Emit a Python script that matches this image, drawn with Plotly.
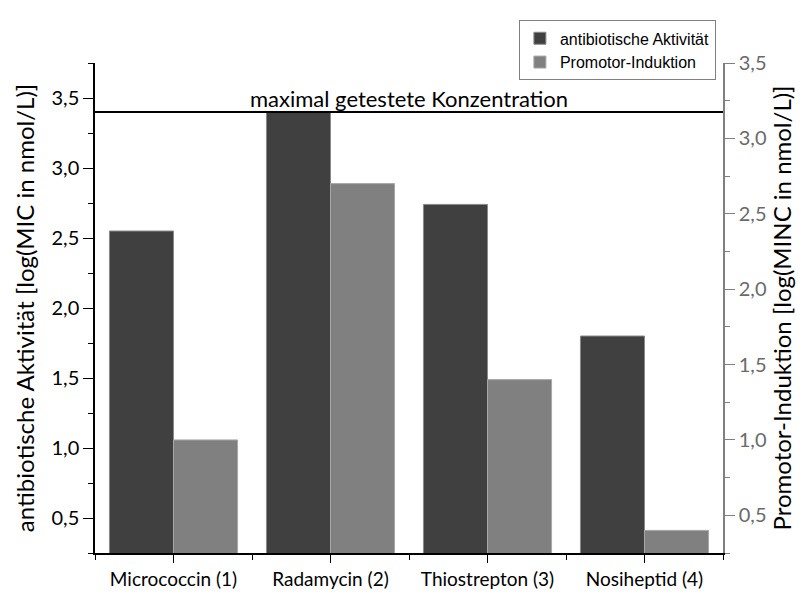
import plotly.graph_objects as go

categories = ["Micrococcin (1)", "Radamycin (2)", "Thiostrepton (3)", "Nosiheptid (4)"]
antibiotic_activity = [2.55, 3.40, 2.74, 1.80]   # left axis, log(MIC)
promoter_induction = [1.00, 2.70, 1.40, 0.40]    # right axis, log(MINC)
max_conc = 3.40
left_ticks = [0.5, 1.0, 1.5, 2.0, 2.5, 3.0, 3.5]
right_ticks = [0.5, 1.0, 1.5, 2.0, 2.5, 3.0, 3.5]

FONT = "Lato"
xpos = list(range(len(categories)))

fig = go.Figure()
fig.add_trace(go.Bar(
    x=xpos, y=antibiotic_activity, name="antibiotische Aktivität",
    marker=dict(color="#404040", line=dict(color="#8a8a8a", width=1)),
    width=0.408, offset=-0.408, yaxis="y"))
fig.add_trace(go.Bar(
    x=xpos, y=promoter_induction, name="Promotor-Induktion",
    marker=dict(color="#808080", line=dict(color="#a8a8a8", width=1)),
    width=0.408, offset=0, yaxis="y2"))

fig.add_shape(type="line", xref="paper", x0=0, x1=1, yref="y", y0=max_conc, y1=max_conc,
              line=dict(color="black", width=2))
fig.add_annotation(text="maximal getestete Konzentration", xref="paper", x=0.5, yref="y", y=max_conc,
                   yanchor="bottom", showarrow=False, yshift=-2,
                   font=dict(family=FONT, size=22, color="black"))

# page body has an 8px margin: figure sits at (8,8)
fig.update_layout(
    width=795, height=594,
    margin=dict(l=87, r=72, t=51, b=27),
    paper_bgcolor="white", plot_bgcolor="white",
    separators=",.",
    showlegend=True,
    legend=dict(x=0.675, y=1.087, xanchor="left", yanchor="top",
                bordercolor="#808080", borderwidth=1, bgcolor="white",
                font=dict(family="Liberation Sans", size=16, color="black"),
                tracegroupgap=0),
    xaxis=dict(range=[-0.5, 3.5], tickvals=xpos, ticktext=categories,
               showgrid=False, zeroline=False,
               showline=True, linecolor="black", linewidth=1.5,
               ticks="outside", ticklen=8, tickcolor="black",
               minor=dict(tick0=0.5, dtick=1, ticks="outside", ticklen=5, tickcolor="black"),
               tickfont=dict(family=FONT, size=19, color="black")),
    yaxis=dict(range=[0.25, 3.75], tickvals=left_ticks,
               tickformat=".1f",
               showgrid=False, zeroline=False,
               showline=True, linecolor="black", linewidth=1.5,
               ticks="outside", ticklen=10, tickcolor="black",
               minor=dict(tick0=0.25, dtick=0.5, ticks="outside", ticklen=5, tickcolor="black"),
               tickfont=dict(family=FONT, size=20, color="black"),
               title=dict(text="antibiotische Aktivität [log(MIC in nmol/L)]",
                          font=dict(family=FONT, size=24, color="black"), standoff=10)),
    yaxis2=dict(range=[0.25, 3.5], tickvals=right_ticks, overlaying="y", side="right",
                tickformat=".1f",
                showgrid=False, zeroline=False,
                showline=True, linecolor="#808080", linewidth=1.5,
                ticks="outside", ticklen=10, tickcolor="#808080",
                minor=dict(tick0=0.25, dtick=0.5, ticks="outside", ticklen=5, tickcolor="#808080"),
                tickfont=dict(family=FONT, size=20, color="#6a6a6a"),
                title=dict(text="Promotor-Induktion [log(MINC in nmol/L)]",
                           font=dict(family=FONT, size=24, color="black"), standoff=8)),
)

fig.write_html("out.html")
